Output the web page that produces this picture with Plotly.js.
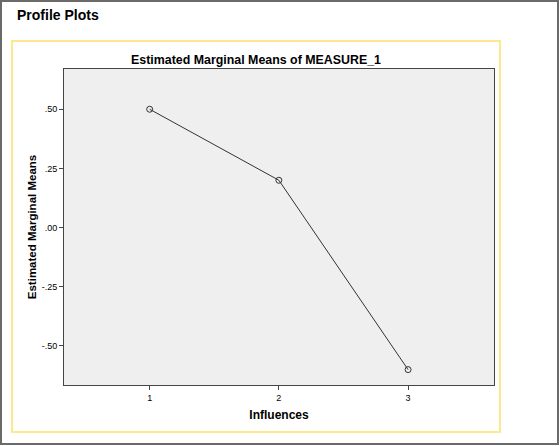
<!DOCTYPE html>
<html><head><meta charset="utf-8">
<script src="https://cdn.plot.ly/plotly-3.0.1.min.js"></script>
<style>html,body{margin:0;padding:0;background:#fff;}#chart{width:560px;height:446px;}</style>
</head><body><div id="chart"></div>
<script>
var influences = [1, 2, 3];
var means = [0.50, 0.20, -0.60];
var yTickVals = [-0.5, -0.25, 0, 0.25, 0.5];
var yTickText = ['-.50', '-.25', '.00', '.25', '.50'];

var L = 64, R = 494, T = 69, B = 385;
function px(x){ return (x - L) / (R - L); }
function py(y){ return (B - y) / (B - T); }

var trace = {
  x: influences, y: means, type: 'scatter', mode: 'lines+markers',
  line: {color: '#333333', width: 1},
  marker: {symbol: 'circle-open', size: 6, color: '#333333', line: {width: 1, color: '#333333'}},
  hoverinfo: 'skip'
};
var layout = {
  width: 560, height: 446,
  margin: {l: L, r: 560 - R, t: T, b: 446 - B},
  paper_bgcolor: '#ffffff', plot_bgcolor: '#efefef',
  showlegend: false,
  font: {family: 'Liberation Sans, Arial, sans-serif', color: '#000'},
  title: {text: '<b>Estimated Marginal Means of MEASURE_1</b>', font: {size: 12.4, color: '#000'},
          x: px(256), xref: 'paper', xanchor: 'center', y: 1 - 60/446, yanchor: 'middle'},
  xaxis: {range: [0.337, 3.665], tickvals: influences, ticktext: influences.map(String),
          ticks: 'outside', ticklen: 4, tickcolor: '#444', tickfont: {size: 9},
          showgrid: false, zeroline: false, showline: true, linecolor: '#444', linewidth: 1, mirror: true,
          title: {text: '<b>Influences</b>', font: {size: 12}, standoff: 8}},
  yaxis: {range: [-0.665, 0.67], tickvals: yTickVals, ticktext: yTickText,
          ticks: 'outside', ticklen: 4, tickcolor: '#444', tickfont: {size: 9},
          showgrid: false, zeroline: false, showline: true, linecolor: '#444', linewidth: 1, mirror: true,
          title: {text: '<b>Estimated Marginal Means</b>', font: {size: 11.5}, standoff: 2}},
  annotations: [{text: '<b>Profile Plots</b>', xref: 'paper', yref: 'paper', x: px(15), y: py(15),
                 xanchor: 'left', yanchor: 'middle', showarrow: false, font: {size: 14, color: '#000'}}],
  shapes: [
    {type: 'rect', xref: 'paper', yref: 'paper', x0: px(1), x1: px(558), y0: py(1), y1: py(444),
     line: {color: '#6a6a6a', width: 2}, fillcolor: 'rgba(0,0,0,0)', layer: 'below'},
    {type: 'rect', xref: 'paper', yref: 'paper', x0: px(12), x1: px(500), y0: py(41), y1: py(432),
     line: {color: '#fde78f', width: 2}, fillcolor: 'rgba(0,0,0,0)', layer: 'below'}
  ]
};
Plotly.newPlot('chart', [trace], layout, {staticPlot: true, displayModeBar: false});
</script></body></html>
